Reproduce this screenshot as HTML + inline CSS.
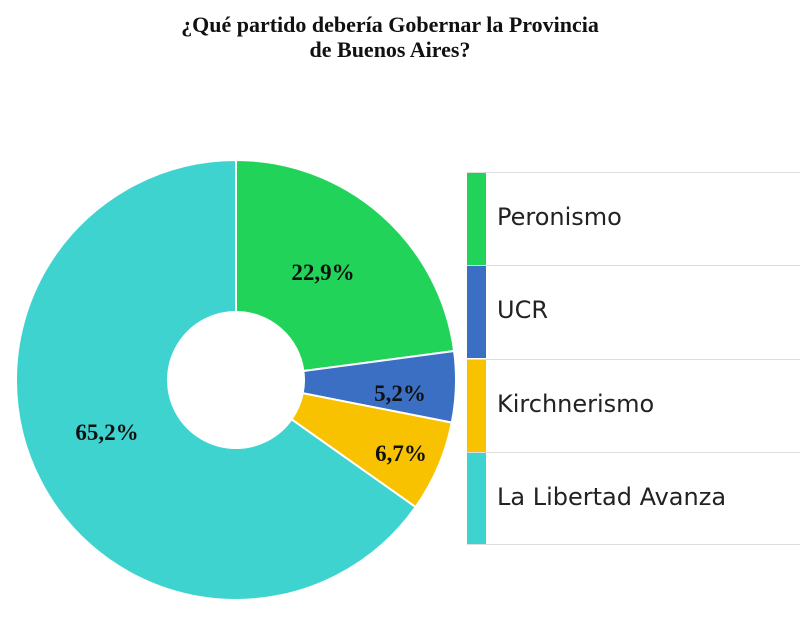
<!DOCTYPE html>
<html><head><meta charset="utf-8"><style>
body{margin:0;background:#fff;width:800px;height:621px;overflow:hidden;position:relative}
.t{position:absolute;left:0;width:780px;text-align:center;top:12px;font:bold 22px/25px "Liberation Serif",serif;color:#111}
.lg{position:absolute;left:467px;width:333px;height:93px;border-top:1.5px solid #ddd;box-sizing:border-box}
.lg .b{position:absolute;left:0;top:0;bottom:0;width:19px}
.lg span{position:absolute;left:30px;top:30px;font:24px "DejaVu Sans","Liberation Sans",sans-serif;color:#222}
</style></head><body>
<div class="t">¿Qué partido debería Gobernar la Provincia<br>de Buenos Aires?</div>
<svg width="800" height="621" style="position:absolute;left:0;top:0">
<g stroke="#fff" stroke-width="2">
<path d="M236,160 A220,220 0 0 1 454.1,351 L303.4,371.05 A68,68 0 0 0 236,312Z" fill="#22d35a"/>
<path d="M454.1,351 A220,220 0 0 1 451.8,422.6 L302.7,393.2 A68,68 0 0 0 303.4,371.05Z" fill="#3a6fc4"/>
<path d="M451.8,422.6 A220,220 0 0 1 415.6,507.05 L291.5,419.3 A68,68 0 0 0 302.7,393.2Z" fill="#f8c200"/>
<path d="M415.6,507.05 A220,220 0 1 1 236,160 L236,312 A68,68 0 1 0 291.5,419.3Z" fill="#3fd3cf"/>
</g>
<g font-family="Liberation Serif,serif" font-weight="bold" font-size="23" fill="#111" text-anchor="middle">
<text x="323" y="280">22,9%</text>
<text x="400" y="401">5,2%</text>
<text x="401" y="461">6,7%</text>
<text x="107" y="440">65,2%</text>
</g>
</svg>
<div class="lg" style="top:172px"><div class="b" style="background:#22d35a"></div><span>Peronismo</span></div>
<div class="lg" style="top:265px"><div class="b" style="background:#3a6fc4"></div><span>UCR</span></div>
<div class="lg" style="top:359px"><div class="b" style="background:#f8c200"></div><span>Kirchnerismo</span></div>
<div class="lg" style="top:452px;border-bottom:1.5px solid #ddd"><div class="b" style="background:#3fd3cf"></div><span>La Libertad Avanza</span></div>
</body></html>
